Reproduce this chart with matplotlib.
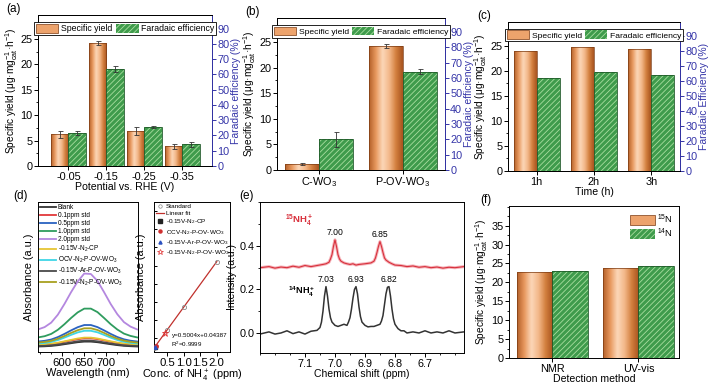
import numpy as np
import matplotlib
matplotlib.use("Agg")
import matplotlib.pyplot as plt
from matplotlib.patches import Patch
from matplotlib.lines import Line2D
from matplotlib.colors import LinearSegmentedColormap
from matplotlib.ticker import MultipleLocator

plt.rcParams['font.family'] = ['Liberation Sans', 'DejaVu Sans']
plt.rcParams['mathtext.default'] = 'regular'
plt.rcParams['hatch.linewidth'] = 0.6
plt.rcParams['axes.linewidth'] = 0.7
plt.rcParams['xtick.major.width'] = 0.7
plt.rcParams['ytick.major.width'] = 0.7
plt.rcParams['xtick.major.size'] = 2.8
plt.rcParams['ytick.major.size'] = 2.8
plt.rcParams['xtick.minor.size'] = 1.5
plt.rcParams['ytick.minor.size'] = 1.5

# ---- (a) potential dependence ----
pot_labels = ["-0.05", "-0.15", "-0.25", "-0.35"]
pot_yield = [6.2, 24.1, 6.9, 3.9]
pot_yield_err = [0.6, 0.4, 0.8, 0.5]
pot_fe = [21.7, 63.6, 25.7, 14.3]
pot_fe_err = [1.3, 1.7, 0.5, 1.7]

# ---- (b) catalysts ----
cat_labels = ["C-WO$_3$", "P-OV-WO$_3$"]
cat_yield = [1.2, 24.2]
cat_yield_err = [0.15, 0.4]
cat_fe = [20.0, 64.0]
cat_fe_err = [4.7, 1.5]

# ---- (c) time ----
time_labels = ["1h", "2h", "3h"]
time_yield = [23.9, 24.8, 24.4]
time_fe = [61.6, 65.8, 63.8]

# ---- (d) UV-vis spectra ----
wl = [545, 560, 575, 590, 605, 620, 635, 650, 665, 680, 695, 710, 725, 740, 755, 770]
spectra = {
    "Blank": [0.055, 0.057, 0.061, 0.068, 0.078, 0.088, 0.098, 0.104, 0.104, 0.098, 0.088, 0.078, 0.069, 0.062, 0.058, 0.055],
    "0.1ppm std": [0.072, 0.075, 0.080, 0.089, 0.102, 0.116, 0.128, 0.137, 0.137, 0.129, 0.116, 0.102, 0.090, 0.081, 0.075, 0.072],
    "0.5ppm std": [0.105, 0.112, 0.125, 0.149, 0.181, 0.216, 0.248, 0.270, 0.270, 0.249, 0.216, 0.181, 0.150, 0.127, 0.113, 0.105],
    "1.0ppm std": [0.146, 0.158, 0.181, 0.222, 0.278, 0.340, 0.396, 0.434, 0.434, 0.399, 0.340, 0.278, 0.225, 0.184, 0.161, 0.146],
    "2.0ppm std": [0.226, 0.249, 0.294, 0.373, 0.480, 0.598, 0.705, 0.785, 0.780, 0.711, 0.598, 0.480, 0.378, 0.299, 0.254, 0.226],
    "-0.15V-N$_2$-CP": [0.075, 0.078, 0.083, 0.093, 0.107, 0.121, 0.135, 0.144, 0.144, 0.135, 0.121, 0.107, 0.094, 0.084, 0.079, 0.075],
    "OCV-N$_2$-P-OV-WO$_3$": [0.085, 0.090, 0.101, 0.119, 0.144, 0.171, 0.196, 0.212, 0.212, 0.197, 0.171, 0.144, 0.120, 0.102, 0.092, 0.085],
    "-0.15V-Ar-P-OV-WO$_3$": [0.060, 0.062, 0.067, 0.074, 0.085, 0.096, 0.107, 0.114, 0.114, 0.107, 0.096, 0.085, 0.075, 0.067, 0.063, 0.060],
    "-0.15V-N$_2$-P-OV-WO$_3$": [0.095, 0.101, 0.112, 0.133, 0.160, 0.191, 0.218, 0.237, 0.237, 0.220, 0.191, 0.160, 0.134, 0.114, 0.102, 0.095],
}
spec_colors = ["#333333", "#e2383a", "#2a62c0", "#2f9c5e", "#b487df",
               "#e6c534", "#3fd6e6", "#4a4a4a", "#a8a020"]

std_conc = [0.1, 0.5, 1.0, 2.0]
std_abs = [0.095, 0.296, 0.545, 1.045]
fit_x = [0.1, 2.0]
fit_y = [0.094, 1.045]
cp_pt = (0.12, 0.104)
ocv_pt = (0.15, 0.118)
ar_pt = (0.13, 0.110)
n2_pt = (0.44, 0.264)

# ---- (e) 1H NMR ----
shift_15 = [7.25, 7.22, 7.20, 7.18, 7.16, 7.14, 7.12, 7.10, 7.08, 7.06, 7.04, 7.03, 7.02, 7.015, 7.01,
            7.005, 7.00, 6.995, 6.99, 6.985, 6.98, 6.97, 6.96, 6.95, 6.94, 6.93, 6.92, 6.90, 6.88,
            6.87, 6.865, 6.86, 6.855, 6.85, 6.845, 6.84, 6.835, 6.83, 6.82, 6.81, 6.80, 6.78, 6.76,
            6.74, 6.72, 6.70, 6.68, 6.66, 6.64, 6.62, 6.60, 6.57]
int_15 = [0.300, 0.305, 0.298, 0.303, 0.300, 0.307, 0.302, 0.310, 0.305, 0.310, 0.315, 0.318, 0.325, 0.340, 0.360,
          0.398, 0.428, 0.398, 0.360, 0.340, 0.330, 0.322, 0.318, 0.315, 0.318, 0.312, 0.315, 0.318, 0.322,
          0.330, 0.345, 0.370, 0.398, 0.420, 0.398, 0.370, 0.345, 0.335, 0.325, 0.318, 0.312, 0.310, 0.305,
          0.308, 0.302, 0.305, 0.300, 0.303, 0.298, 0.302, 0.300, 0.305]
shift_14 = [7.25, 7.22, 7.20, 7.18, 7.16, 7.14, 7.12, 7.10, 7.08, 7.06, 7.05, 7.045, 7.04, 7.035, 7.03,
            7.025, 7.02, 7.015, 7.01, 7.00, 6.99, 6.98, 6.97, 6.96, 6.955, 6.95, 6.945, 6.94, 6.935,
            6.93, 6.925, 6.92, 6.915, 6.91, 6.90, 6.89, 6.88, 6.87, 6.86, 6.85, 6.845, 6.84, 6.835,
            6.83, 6.825, 6.82, 6.815, 6.81, 6.805, 6.80, 6.79, 6.78, 6.77, 6.76, 6.74, 6.72, 6.70,
            6.68, 6.66, 6.64, 6.62, 6.60, 6.57]
int_14 = [-0.005, 0.005, -0.005, 0.000, 0.010, -0.003, 0.005, -0.005, 0.008, 0.012, 0.025, 0.050, 0.100, 0.170, 0.213,
          0.170, 0.110, 0.070, 0.050, 0.035, 0.030, 0.035, 0.040, 0.035, 0.050, 0.070, 0.110, 0.160, 0.200,
          0.213, 0.180, 0.120, 0.075, 0.050, 0.035, 0.028, 0.030, 0.030, 0.035, 0.040, 0.055, 0.080, 0.130,
          0.180, 0.210, 0.213, 0.170, 0.110, 0.065, 0.040, 0.020, 0.010, 0.010, 0.000, 0.005, 0.000, 0.010,
          0.000, 0.005, 0.000, 0.010, 0.000, 0.005]
peaks_15 = [7.00, 6.85]
peaks_15_h = [0.428, 0.420]
peaks_14 = [7.03, 6.93, 6.82]
peaks_14_h = [0.213, 0.213, 0.213]

# ---- (f) isotope check ----
method_labels = ["NMR", "UV-vis"]
yield_15n = [22.8, 23.9]
yield_14n = [23.1, 24.2]

BLUE = "#3535a8"
GREEN = "#3f9b4c"
HATCH = "#a8de9f"
DKGREEN = "#1f5a28"
BROWN = "#7a3a12"
orange_cmap = LinearSegmentedColormap.from_list(
    "bar", ["#b5612a", "#e8995f", "#fcd7b8", "#f3b88a", "#d3803f", "#a8541f"])
grad = np.linspace(0, 1, 64).reshape(1, -1)
YLAB = "Specific yield (μg·mg$_{cat}^{-1}$·h$^{-1}$)"
TICK_FS = 7.8
LAB_FS = 7.3

fig = plt.figure(figsize=(7.17, 3.9), dpi=100)


def orange_bars(ax, x, h, w):
    bars = ax.bar(x, h, w, facecolor="none", edgecolor=BROWN, lw=0.5, zorder=3)
    for b in bars:
        im = ax.imshow(grad, cmap=orange_cmap, aspect="auto", interpolation="bicubic",
                       extent=[b.get_x(), b.get_x() + b.get_width(), 0, b.get_height()], zorder=2)
        im.set_clip_path(b)
    return bars


def green_bars(ax, x, h, w):
    ax.bar(x, h, w, color=GREEN, edgecolor=HATCH, hatch="//////", lw=0, zorder=2)
    ax.bar(x, h, w, fill=False, edgecolor=DKGREEN, lw=0.6, zorder=3)


def dual_panel(rect, labels, sy, sy_err, fe, fe_err, width, xlim, xlabel, felabel, letter, leg_fs):
    ax = fig.add_axes(rect)
    x = np.arange(len(labels))
    orange_bars(ax, x - width / 2, sy, width)
    if sy_err is not None:
        ax.errorbar(x - width / 2, sy, yerr=sy_err, fmt="none", ecolor="#333333",
                    elinewidth=0.6, capsize=1.8, capthick=0.6, zorder=4)
    ax.set_xlim(*xlim)
    ax.set_ylim(0, 29.7)
    ax.set_yticks([0, 5, 10, 15, 20, 25])
    ax.yaxis.set_minor_locator(MultipleLocator(2.5))
    ax.set_xticks(x)
    ax.set_xticklabels(labels)
    ax.tick_params(labelsize=TICK_FS, pad=1.2)
    ax.set_ylabel(YLAB, fontsize=LAB_FS, labelpad=0.5)
    if xlabel:
        ax.set_xlabel(xlabel, fontsize=LAB_FS + 0.3, labelpad=0)
    ax2 = ax.twinx()
    green_bars(ax2, x + width / 2, fe, width)
    if fe_err is not None:
        ax2.errorbar(x + width / 2, fe, yerr=fe_err, fmt="none", ecolor="#333333",
                     elinewidth=0.6, capsize=1.8, capthick=0.6, zorder=4)
    ax2.set_ylim(0, 99)
    ax2.set_yticks(range(0, 91, 10))
    ax2.tick_params(axis="y", colors=BLUE, labelsize=TICK_FS, pad=1)
    ax2.spines["right"].set_color(BLUE)
    ax2.set_ylabel(felabel, color=BLUE, fontsize=LAB_FS + 0.2, labelpad=1)
    handles = [Patch(facecolor="#eda36c", edgecolor=BROWN, lw=0.5),
               Patch(facecolor=GREEN, edgecolor=HATCH, hatch="//////", lw=0)]
    leg = ax2.legend(handles, ["Specific yield", "Faradaic efficiency"], loc="upper center",
                     bbox_to_anchor=(0.5, 0.96), ncol=2, fontsize=leg_fs, frameon=True, fancybox=False,
                     edgecolor="black", framealpha=1, handlelength=2.6, handleheight=1.2,
                     handletextpad=0.3, columnspacing=0.4, borderpad=0.2, borderaxespad=0.1)
    leg.get_frame().set_linewidth(0.6)
    ax.text(-0.1, 1.0, letter, transform=ax.transAxes, fontsize=8.5, ha="right", va="bottom")
    return ax, ax2


# (a)
dual_panel([0.053, 0.5744, 0.2427, 0.3872], pot_labels, pot_yield, pot_yield_err, pot_fe, pot_fe_err,
           0.46, (-0.8, 3.78), "Potential vs. RHE (V)", "Faradaic efficiency (%)", "(a)", 6.3)
# (b)
dual_panel([0.3863, 0.5641, 0.2343, 0.3897], cat_labels, cat_yield, cat_yield_err, cat_fe, cat_fe_err,
           0.4, (-0.5, 1.5), None, "Faradaic efficiency (%)", "(b)", 6.1)
# (c)
dual_panel([0.7085, 0.5615, 0.2399, 0.3821], time_labels, time_yield, None, time_fe, None,
           0.4, (-0.5, 2.5), "Time (h)", "Faradaic Efficiency (%)", "(c)", 6.1)

# (d) left: spectra
axd = fig.add_axes([0.053, 0.0974, 0.1395, 0.3846])
for (name, vals), c in zip(spectra.items(), spec_colors):
    axd.plot(wl, vals, color=c, lw=1.3, label=name)
axd.set_xlim(545, 772)
axd.set_ylim(0, 1.5)
axd.set_yticks([])
axd.set_xticks([600, 650, 700])
axd.xaxis.set_minor_locator(MultipleLocator(25))
axd.tick_params(labelsize=TICK_FS + 0.4, pad=1.2)
axd.set_xlabel("Wavelength (nm)", fontsize=LAB_FS + 0.6, labelpad=0)
axd.set_ylabel("Absorbance (a.u.)", fontsize=LAB_FS + 0.6, labelpad=3)
axd.legend(loc="upper left", fontsize=4.7, frameon=False, handlelength=2.4, handletextpad=0.3,
           labelspacing=0.15, borderaxespad=0.2, borderpad=0.1)
axd.text(-0.1, 1.0, "(d)", transform=axd.transAxes, fontsize=8.5, ha="right", va="bottom")

# (d) right: calibration
axc = fig.add_axes([0.2148, 0.0974, 0.1060, 0.3846])
axc.plot(std_conc, std_abs, "o", mfc="none", mec="#888888", ms=3, mew=0.6, zorder=3)
axc.plot(fit_x, fit_y, color="#c0302c", lw=0.9, zorder=2)
axc.plot(*cp_pt, "s", color="#222222", ms=2.5, zorder=4)
axc.plot(*ocv_pt, "o", color="#d03030", ms=2.5, zorder=4)
axc.plot(*ar_pt, "^", color="#2a50c0", ms=2.5, zorder=4)
axc.plot(*n2_pt, "*", mfc="none", mec="#e03030", ms=5, mew=0.6, zorder=4)
axc.set_xlim(0.1, 2.4)
axc.set_ylim(0.05, 1.7)
axc.set_xticks([0.5, 1.0, 1.5, 2.0])
axc.set_yticks(np.arange(0.2, 1.7, 0.2))
axc.set_yticklabels([])
axc.tick_params(axis="y", direction="in", length=2)
axc.tick_params(axis="x", labelsize=TICK_FS + 0.4, pad=1.2)
axc.set_xlabel("Conc. of NH$_4^+$ (ppm)", fontsize=LAB_FS + 0.6, labelpad=0)
axc.set_ylabel("Absorbance (a.u.)", fontsize=LAB_FS + 0.6, labelpad=2)
leg_h = [Line2D([], [], marker="o", ls="none", mfc="none", mec="#888888", ms=2.5, mew=0.5),
         Line2D([], [], color="#c0302c", lw=0.9),
         Line2D([], [], marker="s", ls="none", color="#222222", ms=2.2),
         Line2D([], [], marker="o", ls="none", color="#d03030", ms=2.2),
         Line2D([], [], marker="^", ls="none", color="#2a50c0", ms=2.2),
         Line2D([], [], marker="*", ls="none", mfc="none", mec="#e03030", ms=4, mew=0.5)]
axc.legend(leg_h, ["Standard", "Linear fit", "-0.15V-N$_2$-CP", "OCV-N$_2$-P-OV-WO$_3$",
                   "-0.15V-Ar-P-OV-WO$_3$", "-0.15V-N$_2$-P-OV-WO$_3$"],
           loc="upper left", fontsize=4.6, frameon=False, handlelength=1.3, handletextpad=0.3,
           labelspacing=0.2, borderaxespad=0.2, borderpad=0.1)
axc.text(0.23, 0.1, "y=0.5004x+0.04387", transform=axc.transAxes, fontsize=4.5)
axc.text(0.23, 0.035, "R$^2$=0.9999", transform=axc.transAxes, fontsize=4.5)

# (e) NMR
axe = fig.add_axes([0.3626, 0.0949, 0.2845, 0.3872])
axe.plot(shift_15, int_15, color="#f2a0a8", lw=2.2, alpha=0.8)
axe.plot(shift_15, int_15, color="#d8303c", lw=0.8)
axe.plot(shift_14, int_14, color="#333333", lw=1.1)
for p, h in zip(peaks_15, peaks_15_h):
    axe.text(p, h + 0.012, f"{p:.2f}", fontsize=6.2, ha="center", va="bottom")
for p, h in zip(peaks_14, peaks_14_h):
    axe.text(p, h + 0.01, f"{p:.2f}", fontsize=6.2, ha="center", va="bottom")
axe.text(7.165, 0.505, "$^{15}$NH$_4^+$", color="#d8303c", fontsize=6.8, fontweight="bold")
axe.text(7.155, 0.178, "$^{14}$NH$_4^+$", color="black", fontsize=6.6, fontweight="bold")
axe.set_xlim(7.25, 6.57)
axe.set_ylim(-0.092, 0.602)
axe.set_xticks([7.1, 7.0, 6.9, 6.8, 6.7])
axe.set_yticks([0.0, 0.2, 0.4])
axe.xaxis.set_minor_locator(MultipleLocator(0.05))
axe.yaxis.set_minor_locator(MultipleLocator(0.1))
axe.tick_params(labelsize=TICK_FS, pad=1.2)
axe.set_xlabel("Chemical shift (ppm)", fontsize=LAB_FS + 0.2, labelpad=0)
axe.set_ylabel("Intensity (a.u.)", fontsize=LAB_FS + 0.2, labelpad=2)
axe.text(-0.03, 1.0, "(e)", transform=axe.transAxes, fontsize=8.5, ha="right", va="bottom")

# (f) isotope comparison
axf = fig.add_axes([0.7099, 0.0821, 0.2371, 0.3897])
xf = np.arange(len(method_labels))
orange_bars(axf, xf - 0.205, yield_15n, 0.41)
green_bars(axf, xf + 0.205, yield_14n, 0.41)
axf.set_xlim(-0.5, 1.47)
axf.set_ylim(0, 40.2)
axf.set_yticks(range(0, 36, 5))
axf.yaxis.set_minor_locator(MultipleLocator(2.5))
axf.set_xticks(xf)
axf.set_xticklabels(method_labels)
axf.tick_params(labelsize=TICK_FS, pad=1.2)
axf.set_xlabel("Detection method", fontsize=LAB_FS + 0.3, labelpad=0)
axf.set_ylabel(YLAB, fontsize=LAB_FS, labelpad=0.5)
fh = [Patch(facecolor="#eda36c", edgecolor=BROWN, lw=0.5),
      Patch(facecolor=GREEN, edgecolor=HATCH, hatch="//////", lw=0)]
axf.legend(fh, ["$^{15}$N", "$^{14}$N"], loc="upper right", fontsize=6.8, frameon=False,
           handlelength=2.6, handleheight=1.3, handletextpad=0.2, labelspacing=0.05,
           borderaxespad=0.3)
axf.text(-0.1, 1.0, "(f)", transform=axf.transAxes, fontsize=8.5, ha="right", va="bottom")

fig.savefig("out.png", dpi=100)
